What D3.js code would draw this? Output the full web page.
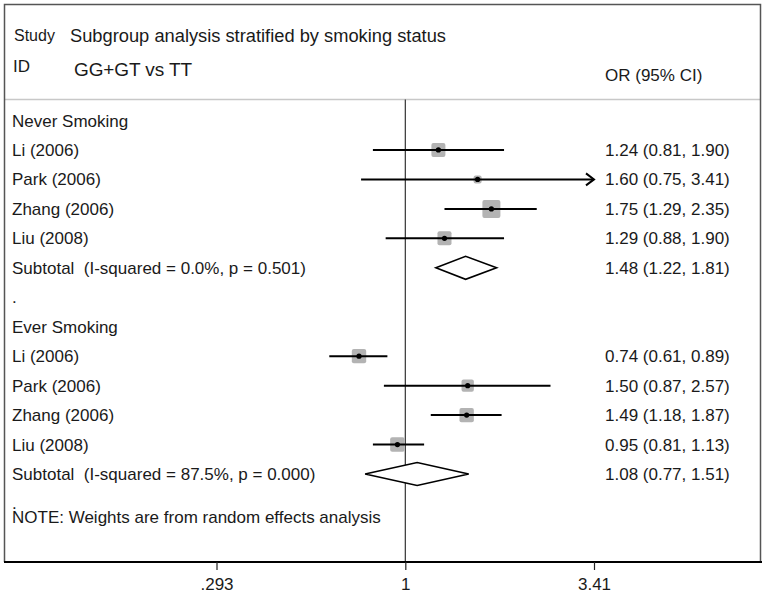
<!DOCTYPE html>
<html><head><meta charset="utf-8">
<script src="https://cdn.jsdelivr.net/npm/d3@7"></script>
<style>body{margin:0;background:#fff}svg{display:block}text{font-family:"Liberation Sans",Arial,sans-serif;font-size:17px;fill:#1a1a1a}</style>
</head><body><svg id="c" width="766" height="595"></svg>
<script>
const studies = ["Li (2006)", "Park (2006)", "Zhang (2006)", "Liu (2008)"];
const neverOR = [1.24, 1.60, 1.75, 1.29];
const neverLo = [0.81, 0.75, 1.29, 0.88];
const neverHi = [1.90, 3.41, 2.35, 1.90];
const neverW  = [25.1, 8.2, 41.5, 25.2];
const everOR = [0.74, 1.50, 1.49, 0.95];
const everLo = [0.61, 0.87, 1.18, 0.81];
const everHi = [0.89, 2.57, 1.87, 1.13];
const everW  = [26.5, 19.5, 26.5, 27.0];
const subOR = [1.48, 1.08];
const subLo = [1.22, 0.77];
const subHi = [1.81, 1.51];
const subLabels = ["Subtotal  (I-squared = 0.0%, p = 0.501)", "Subtotal  (I-squared = 87.5%, p = 0.000)"];
const groups = ["Never Smoking", "Ever Smoking"];
const tickVals = [0.293, 1, 3.41];
const tickLabels = [".293", "1", "3.41"];

const fmt = v => v.toFixed(2);
const svg = d3.select("#c");
const x = d3.scaleLog().domain([0.293, 3.41]).range([216.5, 594]);
const y = d3.scaleLinear().domain([0, 12]).range([120.5, 474]);
const size = d3.scaleSqrt().domain([0, 41.5]).range([0, 18]);
const L = 12, R = 605, base = 6;

// rows
const rows = [];
rows.push({type: "head", label: groups[0], i: 0});
studies.forEach((s, k) => rows.push({type: "study", label: s, or: neverOR[k], lo: neverLo[k], hi: neverHi[k], w: neverW[k], i: 1 + k}));
rows.push({type: "sub", label: subLabels[0], or: subOR[0], lo: subLo[0], hi: subHi[0], i: 5});
rows.push({type: "head", label: ".", i: 6});
rows.push({type: "head", label: groups[1], i: 7});
studies.forEach((s, k) => rows.push({type: "study", label: s, or: everOR[k], lo: everLo[k], hi: everHi[k], w: everW[k], i: 8 + k}));
rows.push({type: "sub", label: subLabels[1], or: subOR[1], lo: subLo[1], hi: subHi[1], i: 12});
rows.push({type: "head", label: ".", i: 13});

// frame
svg.append("line").attr("x1", 4).attr("x2", 761).attr("y1", 99.5).attr("y2", 99.5).attr("stroke", "#c8c8c8").attr("stroke-width", 1.5);
svg.append("path").attr("d", "M4.5,562 V4.5 H760.5 V562").attr("fill", "none").attr("stroke", "#555").attr("stroke-width", 1.5);
svg.append("line").attr("x1", x(1)).attr("x2", x(1)).attr("y1", 99.5).attr("y2", 562).attr("stroke", "#333").attr("stroke-width", 1.2);

// header
svg.append("text").attr("x", 14).attr("y", 41).style("font-size", "16px").text("Study");
svg.append("text").attr("x", 70).attr("y", 41.5).style("font-size", "18.3px").attr("textLength", 376).text("Subgroup analysis stratified by smoking status");
svg.append("text").attr("x", 13).attr("y", 72).text("ID");
svg.append("text").attr("x", 74).attr("y", 75.5).style("font-size", "19px").attr("textLength", 118).text("GG+GT vs TT");
svg.append("text").attr("x", R).attr("y", 81).text("OR (95% CI)");

// labels
svg.selectAll("text.lab").data(rows).join("text").attr("class", "lab")
  .attr("x", L).attr("y", d => y(d.i) + base).attr("xml:space", "preserve").style("white-space", "pre").text(d => d.label);
const est = rows.filter(d => d.type !== "head");
svg.selectAll("text.val").data(est).join("text").attr("class", "val")
  .attr("x", R).attr("y", d => y(d.i) + base).text(d => `${fmt(d.or)} (${fmt(d.lo)}, ${fmt(d.hi)})`);

// studies
const st = rows.filter(d => d.type === "study");
const xmax = x.domain()[1];
svg.selectAll("rect.box").data(st).join("rect").attr("class", "box")
  .attr("x", d => x(d.or) - size(d.w) / 2).attr("y", d => y(d.i) - size(d.w) / 2)
  .attr("width", d => size(d.w)).attr("height", d => size(d.w)).attr("rx", 2).attr("fill", "#b3b3b3");
svg.selectAll("line.ci").data(st).join("line").attr("class", "ci")
  .attr("x1", d => x(d.lo)).attr("x2", d => x(Math.min(d.hi, xmax))).attr("y1", d => y(d.i)).attr("y2", d => y(d.i))
  .attr("stroke", "#000").attr("stroke-width", 2);
svg.selectAll("path.arrow").data(st.filter(d => d.hi >= xmax)).join("path").attr("class", "arrow")
  .attr("d", d => `M${x(xmax) - 8},${y(d.i) - 6} L${x(xmax)},${y(d.i)} L${x(xmax) - 8},${y(d.i) + 6}`)
  .attr("fill", "none").attr("stroke", "#000").attr("stroke-width", 2);
svg.selectAll("circle.pt").data(st).join("circle").attr("class", "pt")
  .attr("cx", d => x(d.or)).attr("cy", d => y(d.i)).attr("r", 2.6).attr("fill", "#000");

// diamonds
const sb = rows.filter(d => d.type === "sub");
svg.selectAll("path.dia").data(sb).join("path").attr("class", "dia")
  .attr("d", d => `M${x(d.lo)},${y(d.i)} L${x(d.or)},${y(d.i) - 11.5} L${x(d.hi)},${y(d.i)} L${x(d.or)},${y(d.i) + 11.5} Z`)
  .attr("fill", "#fff").attr("stroke", "#000").attr("stroke-width", 1.6);

// note
svg.append("text").attr("x", L).attr("y", 523).text("NOTE: Weights are from random effects analysis");

// axis
svg.append("line").attr("x1", 4).attr("x2", 762).attr("y1", 562).attr("y2", 562).attr("stroke", "#000").attr("stroke-width", 2);
const ax = svg.append("g").attr("transform", "translate(0,562)")
  .call(d3.axisBottom(x).tickValues(tickVals).tickFormat((d, i) => tickLabels[i]).tickSize(8).tickPadding(8));
ax.select(".domain").remove();
ax.selectAll("line").attr("stroke", "#222").attr("stroke-width", 1.2);
ax.selectAll("text").attr("font-size", 17).attr("font-family", "Liberation Sans, Arial, sans-serif").attr("fill", "#1a1a1a");
</script></body></html>
